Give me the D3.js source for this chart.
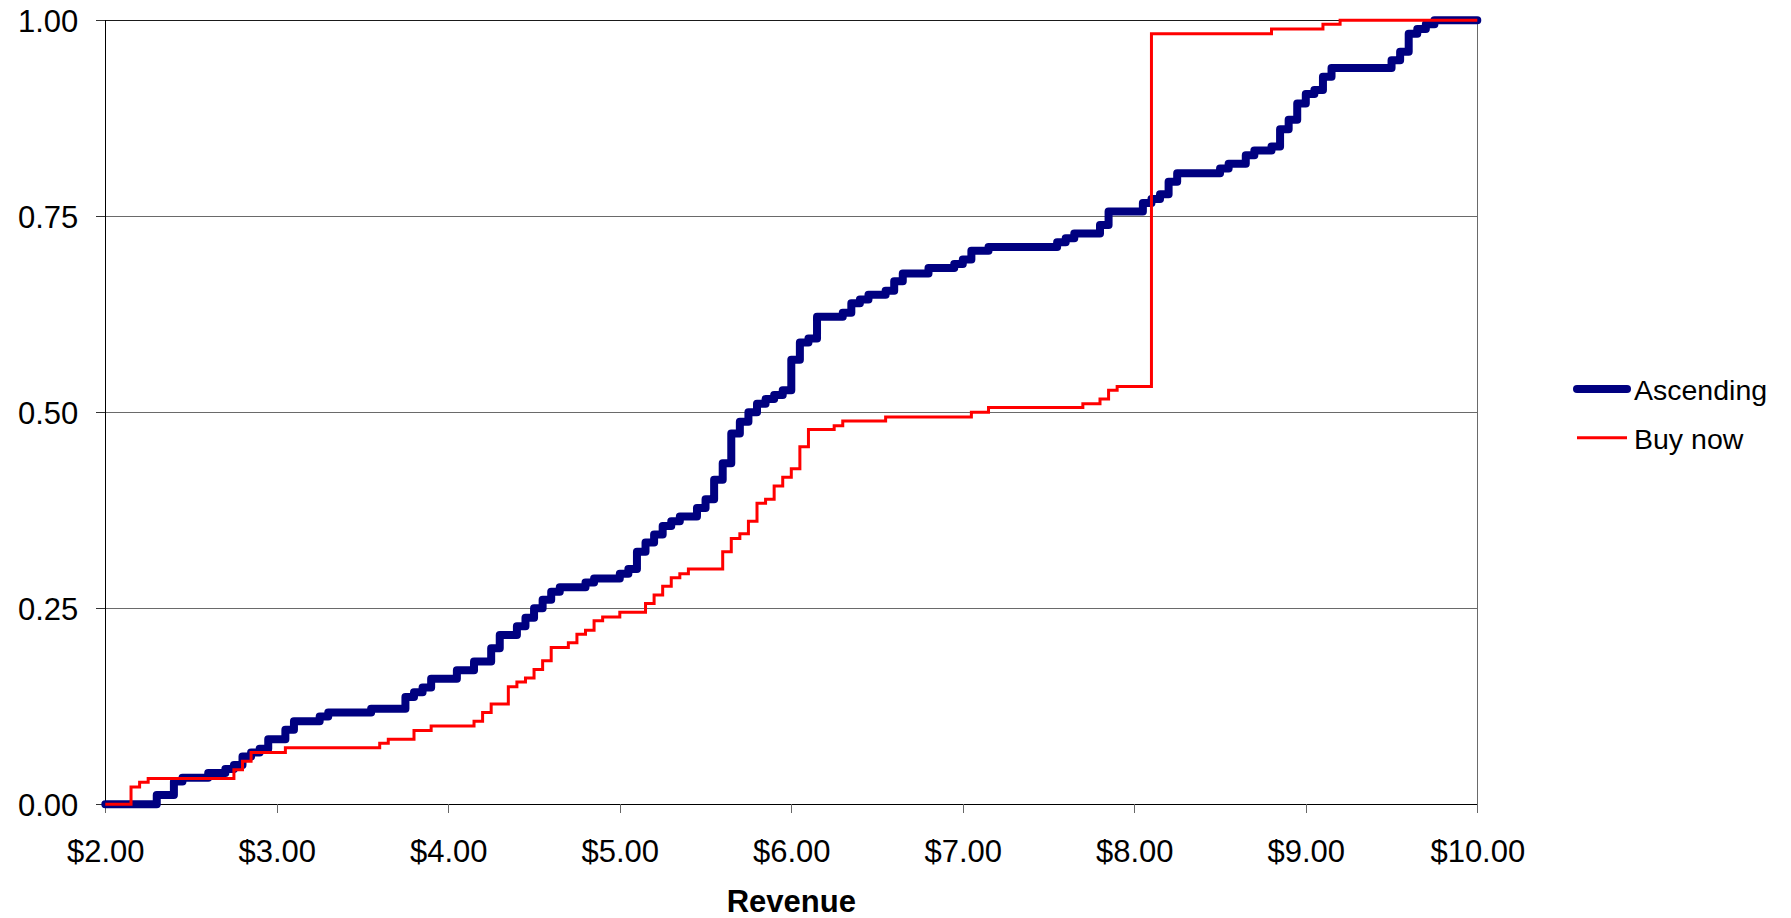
<!DOCTYPE html>
<html>
<head>
<meta charset="utf-8">
<script src="https://cdn.jsdelivr.net/npm/d3@7/dist/d3.min.js"></script>
<style>
  html, body { margin: 0; padding: 0; background: #fff; }
  svg { display: block; font-family: "Liberation Sans", Arial, sans-serif; }
</style>
</head>
<body>
<svg id="chart" width="1791" height="918"></svg>
<script>
// ---- Data (empirical step CDFs) ----
const seriesNames = ["Ascending", "Buy now"];

const ascX = [2.00, 2.30, 2.40, 2.45, 2.60, 2.70, 2.75, 2.80, 2.85, 2.90, 2.95, 3.05, 3.10, 3.25, 3.30, 3.55,
  3.75, 3.80, 3.85, 3.90, 4.05, 4.15, 4.25, 4.30, 4.40, 4.45, 4.50, 4.55, 4.60, 4.65, 4.80, 4.85,
  5.00, 5.05, 5.10, 5.15, 5.20, 5.25, 5.30, 5.35, 5.45, 5.50, 5.55, 5.60, 5.65, 5.70, 5.75, 5.80,
  5.85, 5.90, 5.95, 6.00, 6.05, 6.10, 6.15, 6.30, 6.35, 6.40, 6.45, 6.55, 6.60, 6.65, 6.80, 6.95,
  7.00, 7.05, 7.15, 7.55, 7.60, 7.65, 7.80, 7.85, 8.05, 8.10, 8.15, 8.20, 8.25, 8.50, 8.55, 8.65,
  8.70, 8.80, 8.85, 8.90, 8.95, 9.00, 9.05, 9.10, 9.15, 9.50, 9.55, 9.60, 9.65, 9.70, 9.75, 10.00];
const ascY = [0.000, 0.012, 0.029, 0.034, 0.040, 0.045, 0.050, 0.061, 0.066, 0.071, 0.083, 0.095, 0.106, 0.112, 0.117, 0.122,
  0.137, 0.143, 0.149, 0.160, 0.171, 0.182, 0.199, 0.216, 0.227, 0.238, 0.250, 0.261, 0.271, 0.277, 0.283, 0.288,
  0.294, 0.300, 0.322, 0.334, 0.344, 0.355, 0.361, 0.367, 0.378, 0.389, 0.414, 0.435, 0.473, 0.488, 0.500, 0.511,
  0.517, 0.522, 0.528, 0.567, 0.589, 0.594, 0.622, 0.627, 0.639, 0.644, 0.650, 0.655, 0.667, 0.677, 0.684, 0.689,
  0.695, 0.706, 0.711, 0.717, 0.722, 0.728, 0.739, 0.756, 0.767, 0.772, 0.778, 0.794, 0.805, 0.811, 0.817, 0.828,
  0.834, 0.839, 0.861, 0.873, 0.894, 0.906, 0.911, 0.928, 0.939, 0.949, 0.960, 0.983, 0.989, 0.995, 1.000, 1.000];

const buyX = [2.00, 2.15, 2.20, 2.25, 2.75, 2.80, 2.85, 3.05, 3.60, 3.65, 3.80, 3.90, 4.15, 4.20, 4.25, 4.35,
  4.40, 4.45, 4.50, 4.55, 4.60, 4.70, 4.75, 4.80, 4.85, 4.90, 5.00, 5.15, 5.20, 5.25, 5.30, 5.35,
  5.40, 5.60, 5.65, 5.70, 5.75, 5.80, 5.85, 5.90, 5.95, 6.00, 6.05, 6.10, 6.25, 6.30, 6.55, 7.05,
  7.15, 7.70, 7.80, 7.85, 7.90, 8.10, 8.80, 9.10, 9.20, 10.00];
const buyY = [0.000, 0.022, 0.028, 0.033, 0.044, 0.055, 0.066, 0.072, 0.078, 0.083, 0.094, 0.100, 0.106, 0.117, 0.128, 0.150,
  0.156, 0.161, 0.172, 0.183, 0.200, 0.206, 0.217, 0.222, 0.234, 0.239, 0.245, 0.256, 0.267, 0.278, 0.289, 0.294,
  0.300, 0.322, 0.339, 0.345, 0.361, 0.384, 0.389, 0.406, 0.417, 0.428, 0.456, 0.478, 0.483, 0.489, 0.494, 0.500,
  0.506, 0.511, 0.517, 0.528, 0.533, 0.983, 0.989, 0.995, 1.000, 1.000];

const xTicks = [2, 3, 4, 5, 6, 7, 8, 9, 10];
const yTicks = [0, 0.25, 0.5, 0.75, 1];
const xTitle = "Revenue";

// ---- Layout ----
const svg = d3.select("#chart");
const plotL = 105.3, plotR = 1477.3, plotT = 20.3, plotB = 804.3;

const x = d3.scaleLinear().domain([2, 10]).range([plotL, plotR]);
const y = d3.scaleLinear().domain([0, 1]).range([plotB, plotT]);

// gridlines
svg.append("g").selectAll("line")
  .data(yTicks.filter(d => d > 0))
  .join("line")
  .attr("x1", plotL).attr("x2", plotR)
  .attr("y1", d => y(d)).attr("y2", d => y(d))
  .attr("stroke", d => d === 1 ? "#1a1a1a" : "#6a6a6a")
  .attr("stroke-width", 1.2)
  .attr("shape-rendering", "crispEdges");

// right border
svg.append("line")
  .attr("x1", plotR).attr("x2", plotR).attr("y1", plotT).attr("y2", plotB)
  .attr("stroke", "#6a6a6a").attr("stroke-width", 1.2).attr("shape-rendering", "crispEdges");

// Y axis
const yAxis = svg.append("g")
  .attr("transform", `translate(${plotL},0)`)
  .call(d3.axisLeft(y).tickValues(yTicks).tickFormat(d3.format(".2f")).tickSize(9).tickPadding(18));
yAxis.select(".domain").attr("stroke", "#000").attr("stroke-width", 1.2).attr("shape-rendering", "crispEdges");
yAxis.selectAll(".tick line").attr("stroke", "#333").attr("stroke-width", 1.2).attr("shape-rendering", "crispEdges");
yAxis.selectAll(".tick text")
  .attr("font-family", "'Liberation Sans', Arial, sans-serif")
  .attr("font-size", 31).attr("fill", "#000").attr("dy", "0.36em");

// X axis
const xAxis = svg.append("g")
  .attr("transform", `translate(0,${plotB})`)
  .call(d3.axisBottom(x).tickValues(xTicks).tickFormat(d => "$" + d.toFixed(2)).tickSize(9).tickPadding(27));
xAxis.select(".domain").attr("stroke", "#000").attr("stroke-width", 1.2).attr("shape-rendering", "crispEdges");
xAxis.selectAll(".tick line").attr("stroke", "#666").attr("stroke-width", 1.2).attr("shape-rendering", "crispEdges");
xAxis.selectAll(".tick text")
  .attr("font-family", "'Liberation Sans', Arial, sans-serif")
  .attr("font-size", 31).attr("fill", "#000");

// axis title
svg.append("text")
  .attr("x", (plotL + plotR) / 2).attr("y", 911.5)
  .attr("text-anchor", "middle")
  .attr("font-family", "'Liberation Sans', Arial, sans-serif")
  .attr("font-size", 31).attr("font-weight", "bold").attr("fill", "#000")
  .text(xTitle);

// lines
const line = d3.line().x(d => x(d[0])).y(d => y(d[1])).curve(d3.curveStepAfter);
const ascData = ascX.map((v, i) => [v, ascY[i]]);
const buyData = buyX.map((v, i) => [v, buyY[i]]);

const styles = [
  { color: "#000080", width: 8 },
  { color: "#FF0000", width: 3 }
];

svg.append("path").datum(ascData)
  .attr("d", line).attr("fill", "none")
  .attr("stroke", styles[0].color).attr("stroke-width", styles[0].width)
  .attr("stroke-linejoin", "round").attr("stroke-linecap", "round");

svg.append("path").datum(buyData)
  .attr("d", line).attr("fill", "none")
  .attr("stroke", styles[1].color).attr("stroke-width", styles[1].width)
  .attr("stroke-linejoin", "miter").attr("stroke-linecap", "butt");

// legend
const legend = svg.append("g");
const legendRows = [
  { name: seriesNames[0], ly: 389, ty: 400 },
  { name: seriesNames[1], ly: 437.7, ty: 449 }
];
legendRows.forEach((r, i) => {
  legend.append("line")
    .attr("x1", 1577).attr("x2", 1627).attr("y1", r.ly).attr("y2", r.ly)
    .attr("stroke", styles[i].color).attr("stroke-width", styles[i].width)
    .attr("stroke-linecap", i === 0 ? "round" : "butt");
  legend.append("text")
    .attr("x", 1634).attr("y", r.ty)
    .attr("font-family", "'Liberation Sans', Arial, sans-serif")
    .attr("font-size", 28.5).attr("fill", "#000")
    .text(r.name);
});
</script>
</body>
</html>
